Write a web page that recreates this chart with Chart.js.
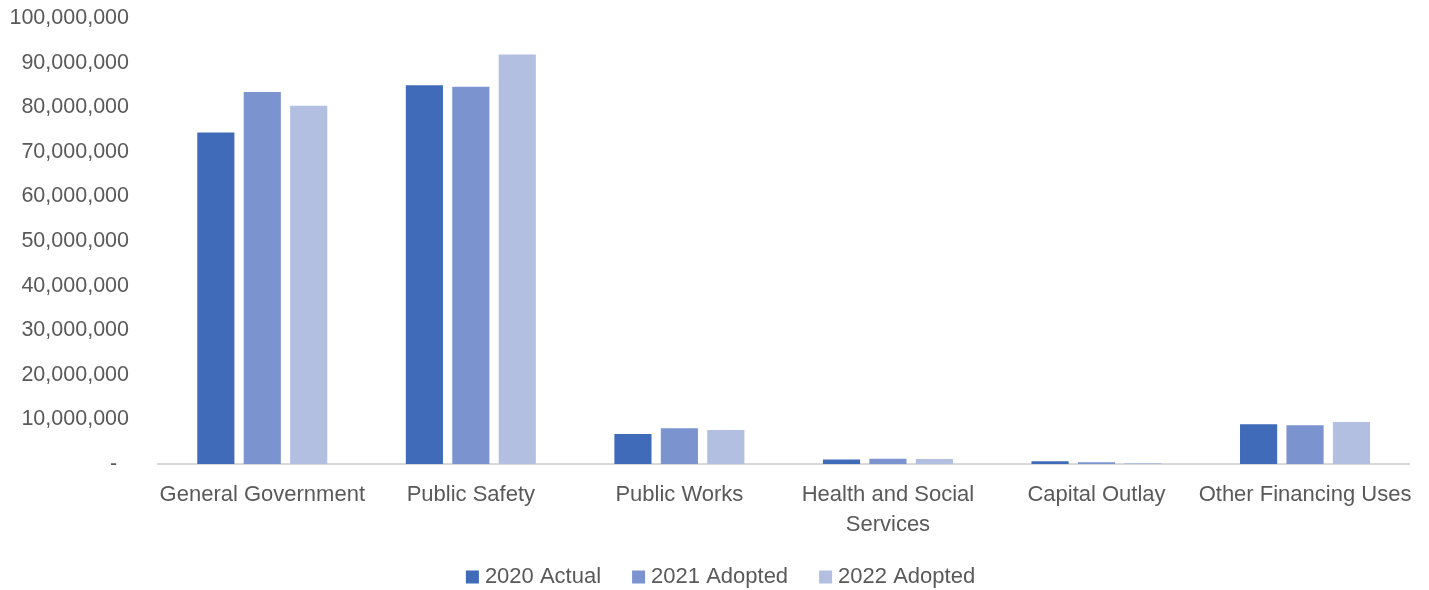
<!DOCTYPE html>
<html>
<head>
<meta charset="utf-8">
<script src="https://cdn.jsdelivr.net/npm/chart.js@4/dist/chart.umd.min.js"></script>
<style>
  html, body { margin: 0; padding: 0; background: #ffffff; }
  #wrap { width: 1429px; height: 590px; position: relative; }
</style>
</head>
<body>
<div id="wrap"><canvas id="budget"></canvas></div>
<script>
// Expenditure categories and budget amounts by year
const categories = [
  'General Government',
  'Public Safety',
  'Public Works',
  ['Health and Social', 'Services'],
  'Capital Outlay',
  'Other Financing Uses'
];
const actual2020  = [74300000, 84900000, 6700000, 1000000, 600000, 8900000];
const adopted2021 = [83400000, 84600000, 8000000, 1200000, 400000, 8700000];
const adopted2022 = [80300000, 91800000, 7600000, 1100000, 250000, 9400000];
const seriesNames = ['2020 Actual', '2021 Adopted', '2022 Adopted'];
const seriesColors = ['#3F6BB9', '#7B93CF', '#B3BFE0'];

const FONT = "'Liberation Sans', Arial, sans-serif";
const AXIS_SIZE = 21.5;
const LABEL_SIZE = 22;
const TEXT = '#595959';

// Legend row drawn under the axis labels: square swatch, then the series name
const bottomLegend = {
  id: 'bottomLegend',
  afterDraw(chart) {
    const ctx = chart.ctx;
    const sets = chart.data.datasets;
    const box = 13, gap = 6, spacing = 31;
    ctx.save();
    ctx.font = LABEL_SIZE + 'px ' + FONT;
    ctx.textBaseline = 'middle';
    ctx.textAlign = 'left';
    const widths = sets.map(d => box + gap + ctx.measureText(d.label).width);
    const total = widths.reduce((a, b) => a + b, 0) + spacing * (sets.length - 1);
    let x = (chart.width - total) / 2 + 6;
    const y = chart.height - 13;
    sets.forEach((d, i) => {
      ctx.fillStyle = d.backgroundColor;
      ctx.fillRect(x, y - box / 2, box, box);
      ctx.fillStyle = TEXT;
      ctx.fillText(d.label, x + box + gap, y);
      x += widths[i] + spacing;
    });
    ctx.restore();
  }
};

new Chart(document.getElementById('budget'), {
  type: 'bar',
  data: {
    labels: categories,
    datasets: [actual2020, adopted2021, adopted2022].map((vals, i) => ({
      label: seriesNames[i],
      data: vals,
      backgroundColor: seriesColors[i],
      borderWidth: 0,
      categoryPercentage: 0.668,
      barPercentage: 0.8
    }))
  },
  plugins: [bottomLegend],
  options: {
    responsive: true,
    maintainAspectRatio: false,
    animation: false,
    layout: { padding: { top: 18, right: 19, bottom: 46, left: 0 } },
    plugins: {
      tooltip: { enabled: false },
      legend: { display: false }
    },
    scales: {
      x: {
        grid: { display: false, drawTicks: false },
        border: { display: true, color: '#D9D9D9', width: 2 },
        ticks: {
          color: TEXT,
          padding: 16,
          maxRotation: 0,
          autoSkip: false,
          font: { family: FONT, size: LABEL_SIZE, lineHeight: 1.36 }
        },
        afterFit: (scale) => { scale.height = 80; }
      },
      y: {
        min: 0,
        max: 100000000,
        grid: { display: false, drawTicks: false },
        border: { display: false },
        ticks: {
          stepSize: 10000000,
          color: TEXT,
          padding: 29,
          font: { family: FONT, size: AXIS_SIZE },
          callback: (v) => v === 0 ? '-  ' : v.toLocaleString('en-US')
        },
        afterFit: (scale) => {
          scale.width = 158;
          scale.paddingTop = 0;
          scale.paddingBottom = 0;
        }
      }
    }
  }
});
</script>
</body>
</html>
